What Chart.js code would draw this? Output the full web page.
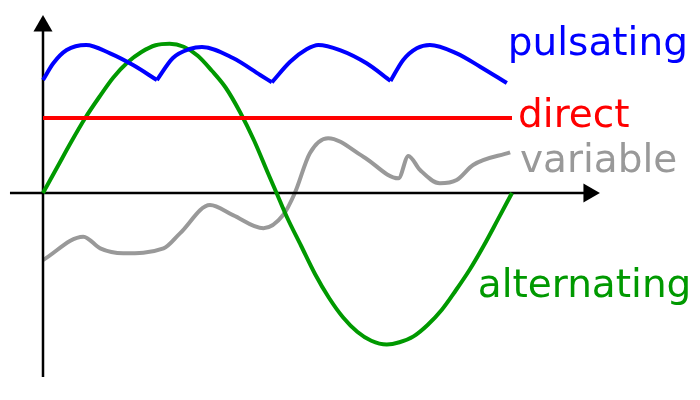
<!DOCTYPE html>
<html>
<head>
<meta charset="utf-8">
<script src="https://cdn.jsdelivr.net/npm/chart.js@4/dist/chart.umd.min.js"></script>
<style>
  html, body { margin: 0; padding: 0; background: #ffffff; }
  #c { display: block; }
</style>
</head>
<body>
<canvas id="c" width="700" height="400"></canvas>
<script>
// ---- data (time units 0..100 = one period, amplitude units -100..100) ----
const alternatingX = [0, 3, 6, 9, 12, 15, 18, 21, 24, 27, 30, 33, 36, 39, 42, 45, 48, 49.8,
                      52, 55, 58, 61, 64, 67, 70, 73.3, 76, 79, 82, 85, 88, 91, 94, 97, 100];
const alternatingY = [0, 17, 34, 50, 64, 77, 87, 94, 98.5, 99.5, 97.5, 91.5, 81.5, 70, 54, 35, 13, 0,
                      -16, -35, -54, -70, -83, -92.5, -98.5, -101, -99.5, -95.6, -88, -78, -65, -51, -35, -17.6, 0];

const directX = [0, 100];
const directY = [50, 50];

const pulsatingX = [0, 2.2, 5.05, 9.2, 14.3, 19.2, 24.3,
                    27.7, 31.3, 33.9, 40.5, 46.3, 48.8,
                    52.7, 56.2, 58.7, 63.3, 69, 74.1,
                    76.8, 79.7, 82.5, 88.2, 93.2, 98.9];
const pulsatingY = [75.3, 86.5, 95.3, 98.7, 93.1, 85.3, 75.3,
                    90, 96, 97.3, 90, 78.7, 73.8,
                    87.5, 95.8, 98.7, 95.3, 86.5, 74.7,
                    88.7, 96.5, 98.7, 93.1, 84.2, 73.3];
const pulsatingCusps = [0, 6, 12, 18, 24];

const variableX = [0, 8.6, 12.2, 17.1, 25.7, 29.2, 35.6, 40.5, 47, 51.2, 53.7, 56.9, 60.8, 68.3, 75.8, 77.9, 80.4, 84.6, 88.2, 91.7, 99.6];
const variableY = [-44.7, -29.1, -36.9, -40.2, -36.9, -26.9, -8, -14.7, -23.5, -14.7, 0, 26.5, 36.5, 24.2, 9.8, 24.7, 15.3, 6.5, 8.7, 18.7, 27.1];

const seriesLabels = ['pulsating', 'direct', 'variable', 'alternating'];

// axis extents (data units)
const axisXRange = [-7.04, 115.4];
const axisYRange = [-122.7, 108];
const arrowX = [116.4, 0];
const arrowY = [111.3, 0];

// ---- helpers ----
const pts = (xs, ys) => xs.map((x, i) => ({ x: x, y: ys[i] }));

const colors = {
  pulsating: '#0000ff',
  direct: '#ff0000',
  variable: '#999999',
  alternating: '#009900',
  axis: '#000000'
};

const labelAnchors = [
  { text: seriesLabels[0], x: 99.1, y: 92, color: colors.pulsating },
  { text: seriesLabels[1], x: 101.3, y: 44, color: colors.direct },
  { text: seriesLabels[2], x: 101.7, y: 14, color: colors.variable },
  { text: seriesLabels[3], x: 92.7, y: -69.3, color: colors.alternating }
];

const lineBase = { type: 'line', pointRadius: 0, fill: false, borderCapStyle: 'butt', borderJoinStyle: 'round' };

const datasets = [];

// variable (bottom)
datasets.push(Object.assign({}, lineBase, {
  label: 'variable', data: pts(variableX, variableY), borderColor: colors.variable,
  borderWidth: 4, cubicInterpolationMode: 'monotone', order: 6
}));

// axes
datasets.push(Object.assign({}, lineBase, {
  label: 'axisX', data: [{ x: axisXRange[0], y: 0 }, { x: axisXRange[1], y: 0 }],
  borderColor: colors.axis, borderWidth: 2.5, tension: 0, order: 5
}));
datasets.push(Object.assign({}, lineBase, {
  label: 'axisY', data: [{ x: 0, y: axisYRange[0] }, { x: 0, y: axisYRange[1] }],
  borderColor: colors.axis, borderWidth: 2.5, tension: 0, order: 5
}));
datasets.push({
  type: 'scatter', label: 'arrowX', data: [{ x: arrowX[0], y: arrowX[1] }],
  pointStyle: 'triangle', rotation: 90, pointRadius: 11, pointBorderWidth: 0,
  backgroundColor: colors.axis, borderColor: colors.axis, order: 5
});
datasets.push({
  type: 'scatter', label: 'arrowY', data: [{ x: arrowY[1], y: arrowY[0] }],
  pointStyle: 'triangle', rotation: 0, pointRadius: 11, pointBorderWidth: 0,
  backgroundColor: colors.axis, borderColor: colors.axis, order: 5
});

// alternating
datasets.push(Object.assign({}, lineBase, {
  label: 'alternating', data: pts(alternatingX, alternatingY), borderColor: colors.alternating,
  borderWidth: 4, cubicInterpolationMode: 'monotone', order: 3
}));

// pulsating arcs (sharp cusps between arcs)
for (let k = 0; k < pulsatingCusps.length - 1; k++) {
  const a = pulsatingCusps[k], b = pulsatingCusps[k + 1];
  datasets.push(Object.assign({}, lineBase, {
    label: 'pulsating' + k,
    data: pts(pulsatingX.slice(a, b + 1), pulsatingY.slice(a, b + 1)),
    borderColor: colors.pulsating, borderWidth: 4, cubicInterpolationMode: 'monotone', order: 2
  }));
}

// direct (top)
datasets.push(Object.assign({}, lineBase, {
  label: 'direct', data: pts(directX, directY), borderColor: colors.direct,
  borderWidth: 4, tension: 0, order: 1
}));

const labelPlugin = {
  id: 'seriesLabels',
  afterDatasetsDraw(chart) {
    const ctx = chart.ctx;
    const xs = chart.scales.x, ys = chart.scales.y;
    ctx.save();
    ctx.font = '39px "DejaVu Sans", sans-serif';
    ctx.textAlign = 'left';
    ctx.textBaseline = 'alphabetic';
    labelAnchors.forEach(l => {
      ctx.fillStyle = l.color;
      ctx.fillText(l.text, xs.getPixelForValue(l.x), ys.getPixelForValue(l.y));
    });
    ctx.restore();
  }
};

new Chart(document.getElementById('c'), {
  data: { datasets: datasets },
  options: {
    responsive: false,
    devicePixelRatio: 1,
    animation: false,
    events: [],
    layout: { padding: 0, autoPadding: false },
    plugins: { legend: { display: false }, tooltip: { enabled: false } },
    scales: {
      x: { type: 'linear', min: -9.168, max: 140.085, display: false },
      y: { type: 'linear', min: -138, max: 128.667, display: false }
    }
  },
  plugins: [labelPlugin]
});
</script>
</body>
</html>
